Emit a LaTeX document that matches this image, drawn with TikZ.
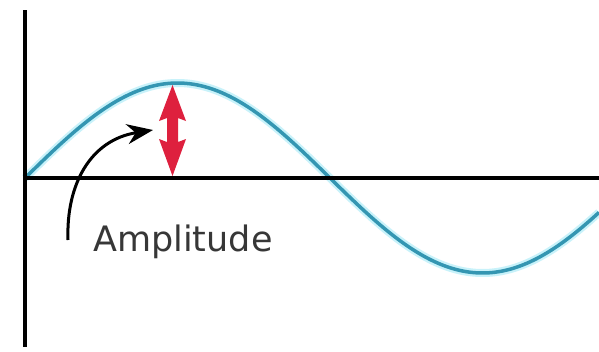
\documentclass[tikz,border=0pt]{standalone}
\usepackage{fontspec}
\setmainfont{DejaVu Sans}
\usetikzlibrary{arrows.meta}
\definecolor{wave}{RGB}{52,150,178}
\definecolor{glow}{RGB}{200,242,250}
\definecolor{ampred}{RGB}{222,32,62}
\definecolor{txt}{RGB}{55,55,55}
\tikzset{
  axis/.style={line width=3.5pt, black},
  wavelow/.style={line width=8pt, glow},
  wavemain/.style={line width=3.5pt, wave},
  redhead/.style={fill=ampred, draw=none},
  pointer/.style={line width=3pt, black, -{Stealth[length=26pt,width=20pt]}},
  lbl/.style={font=\fontsize{35}{40}\selectfont, text=txt, inner sep=0pt, anchor=base west}
}
\begin{document}
\begin{tikzpicture}[x=1pt,y=-1pt]
\useasboundingbox (0,0) rectangle (599,351);
\fill[white] (0,0) rectangle (599,351);
% wave
\draw[wavelow] plot[domain=25:599,samples=200,smooth] (\x,{178-95*sin((\x-25)/305*180)});
\draw[wavemain] plot[domain=25:599,samples=200,smooth] (\x,{178-95*sin((\x-25)/305*180)});
% axes
\coordinate (vt) at (25,10);
\coordinate (vb) at (25,347);
\coordinate (hl) at (25,178);
\coordinate (hr) at (599,178);
\draw[axis] (vt) -- (vb);
\draw[axis] (hl) -- (hr);
% red double arrow
\fill[redhead] (172.5,85) -- (186,121) -- (178,118) -- (178,142) -- (186,139)
   -- (172.5,176) -- (159,139) -- (167,142) -- (167,118) -- (159,121) -- cycle;
% label and pointer
\node[lbl] (amp) at (93,251) {Amplitude};
\coordinate (ps) at (68,240);
\coordinate (pe) at (153,130);
\draw[pointer] (ps) .. controls (66,185) and (90,140) .. (pe);
\end{tikzpicture}
\end{document}
